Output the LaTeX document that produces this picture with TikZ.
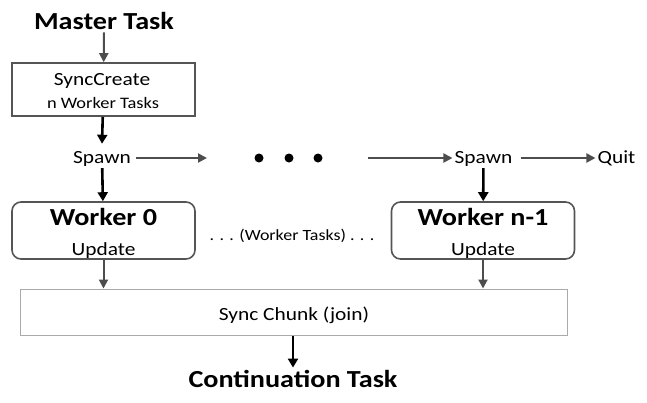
\documentclass[tikz,border=0pt]{standalone}
\usepackage{fontspec}
\setmainfont{Carlito}[FakeStretch=1.15]
\usetikzlibrary{arrows.meta}

\definecolor{arrowgray}{HTML}{4D4D4D}
\definecolor{boxgray}{HTML}{555555}
\definecolor{syncgray}{HTML}{AAAAAA}

\tikzset{
    grayarrow/.style={draw=arrowgray, line width=2pt, -{Triangle[length=9pt,width=9pt]}},
    blackarrow/.style={draw=black, line width=2.6pt, -{Triangle[length=9pt,width=10pt]}},
    bigtitle/.style={font=\fontsize{24.5}{28}\selectfont\bfseries, inner sep=0pt, anchor=base},
    plain/.style={font=\fontsize{18.6}{22}\selectfont, inner sep=2pt, anchor=base},
    workerbox/.style={draw=boxgray, line width=1.6pt, rounded corners=9pt,
        minimum width=183pt, minimum height=57pt, inner sep=0pt},
    dotmark/.style={circle, fill=black, inner sep=0pt, minimum size=9pt}
}

\begin{document}
\begin{tikzpicture}[x=1pt,y=-1pt]
    \useasboundingbox (0,0) rectangle (647,402);

    % master task and the create step
    \node[bigtitle] (master) at (104,29) {Master Task};
    \node[draw=boxgray, line width=1.6pt, minimum width=183pt, minimum height=53pt,
        inner sep=0pt] (create) at (103.5,89.5) {};
    \node[plain, inner sep=0pt] (createtop) at (102,85) {SyncCreate};
    \node[plain, inner sep=0pt, font=\fontsize{16}{20}\selectfont] (createbot) at (103,108) {n Worker Tasks};
    \draw[grayarrow, shorten <=3pt] (master) -- (create);

    % spawn chain
    \node[plain] (spawnA) at (102,163) {Spawn};
    \coordinate (gapL) at (207,158);
    \coordinate (gapR) at (368,158);
    \foreach \i/\x in {1/259,2/289,3/318}
        \node[dotmark] (dot\i) at (\x,158) {};
    \node[plain] (spawnB) at (483.5,163) {Spawn};
    \node[plain] (quit) at (616.5,163) {Quit};
    \draw[blackarrow] (create) -- ([yshift=5pt]spawnA.north);
    \draw[grayarrow, shorten <=3pt] (spawnA.east |- gapL) -- (gapL);
    \draw[grayarrow] (gapR) -- (spawnB.west |- gapR);
    \draw[grayarrow, shorten <=6pt] (spawnB.east |- gapR) -- (quit.west |- gapR);

    % workers
    \node[workerbox] (workA) at (103.5,230.5) {};
    \node[bigtitle] (workAtitle) at (103.5,225) {Worker 0};
    \node[plain, inner sep=0pt] (workAsub) at (103.5,255) {Update};
    \node[workerbox] (workB) at (483,230.5) {};
    \node[bigtitle] (workBtitle) at (483,225) {Worker n-1};
    \node[plain, inner sep=0pt] (workBsub) at (483,255) {Update};
    \node[plain, inner sep=0pt, font=\fontsize{15.6}{18}\selectfont] (tasks) at (292,240)
        {. . . (Worker Tasks) . . .};
    \draw[blackarrow] (spawnA) -- (workA);
    \draw[blackarrow] (spawnB) -- (workB);

    % join and continuation
    \node[draw=syncgray, line width=1pt, minimum width=547pt, minimum height=46pt,
        inner sep=0pt] (sync) at (293.5,312) {};
    \node[plain, inner sep=0pt] (synctext) at (294,320) {Sync Chunk (join)};
    \draw[grayarrow] (workA) -- (workA |- sync.north);
    \draw[grayarrow] (workB) -- (workB |- sync.north);
    \node[bigtitle] (cont) at (293,387) {Continuation Task};
    \draw[blackarrow, shorten >=2pt] (sync.south -| cont) -- (cont);
\end{tikzpicture}
\end{document}
